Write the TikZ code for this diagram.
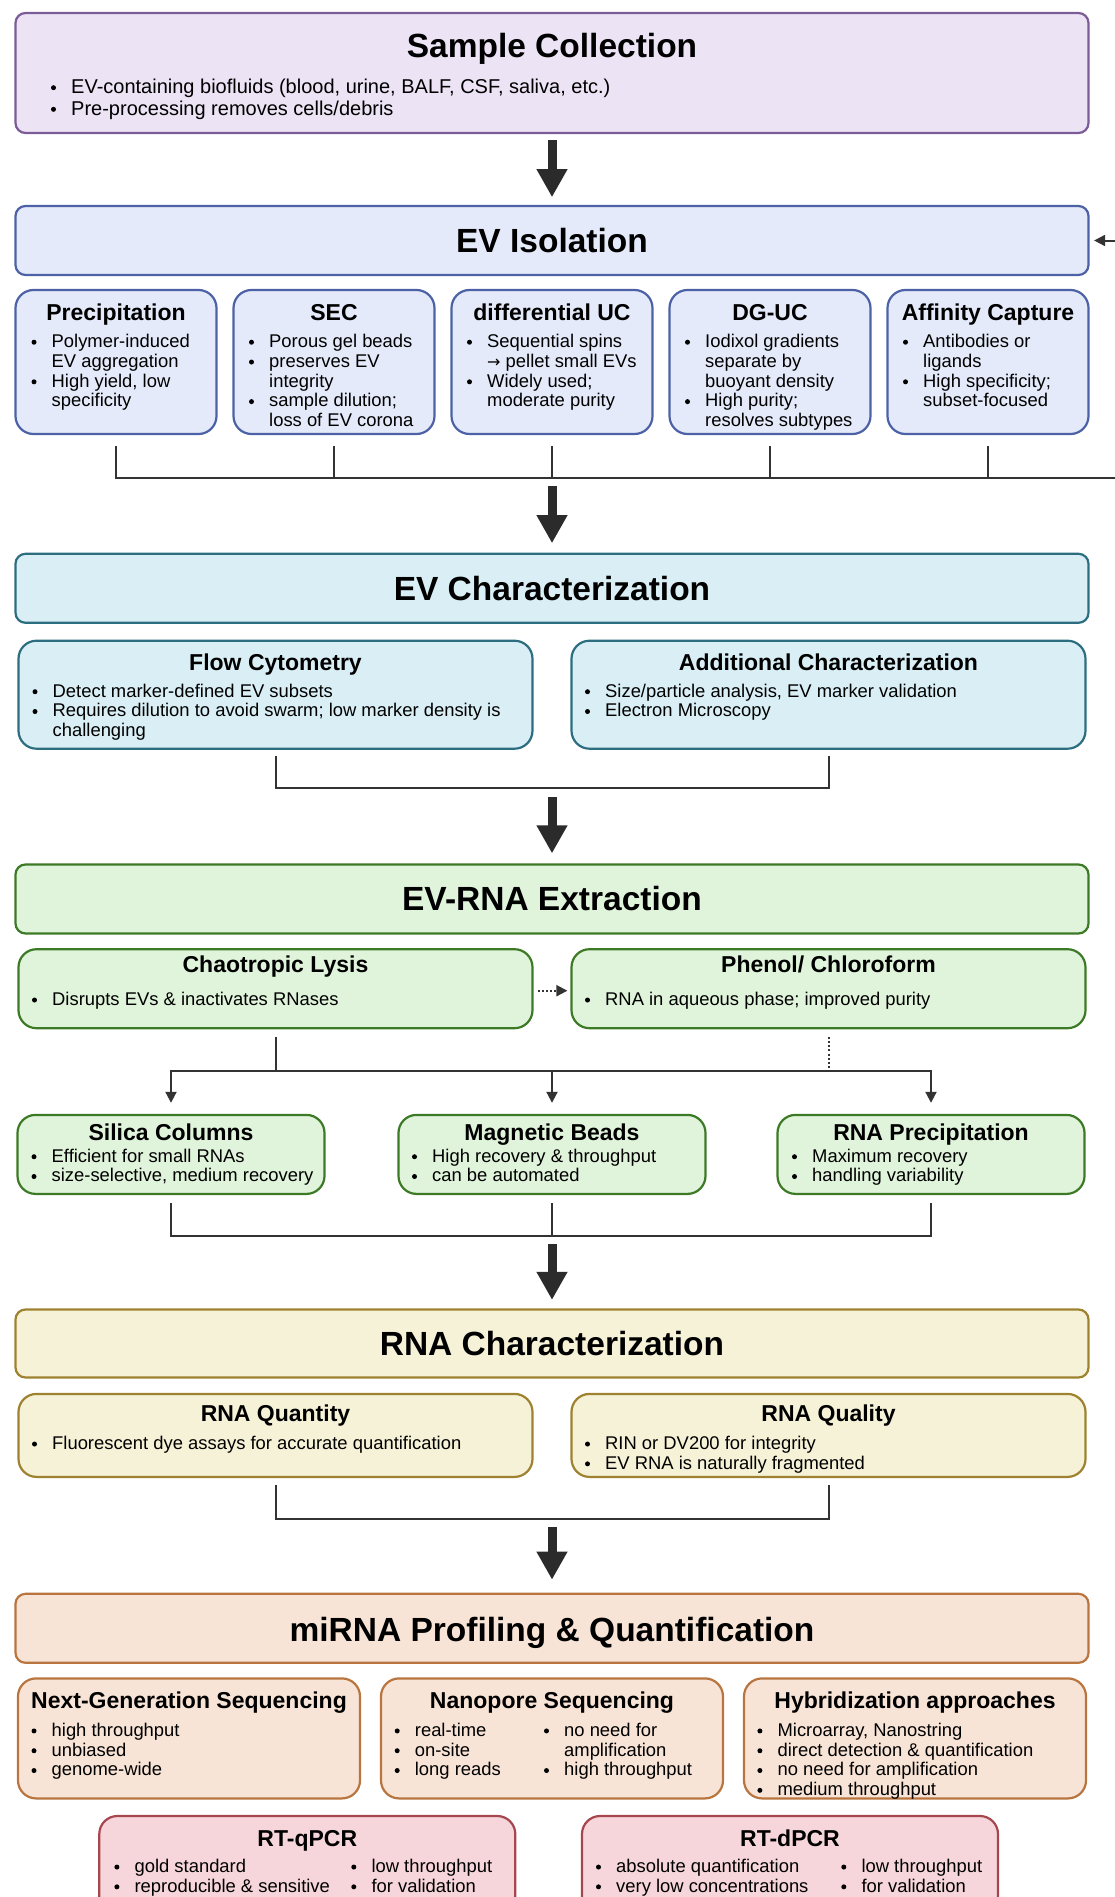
\documentclass[tikz,border=0pt]{standalone}
\usepackage{fontspec}
\setmainfont{Liberation Sans}
\newfontfamily\arrowfont{DejaVu Sans}
\usetikzlibrary{arrows.meta,calc}
\definecolor{scF}{HTML}{ECE3F4}\definecolor{scD}{HTML}{7B5C97}
\definecolor{isF}{HTML}{E4EAF9}\definecolor{isD}{HTML}{4D62A6}
\definecolor{chF}{HTML}{D9EFF5}\definecolor{chD}{HTML}{2C6E80}
\definecolor{exF}{HTML}{E0F3DB}\definecolor{exD}{HTML}{3D7A26}
\definecolor{rcF}{HTML}{F6F2D7}\definecolor{rcD}{HTML}{9E8230}
\definecolor{mrF}{HTML}{F8E4D6}\definecolor{mrD}{HTML}{B9753F}
\definecolor{rtF}{HTML}{F6D6DA}\definecolor{rtD}{HTML}{A6464F}
\definecolor{lineC}{HTML}{333333}\definecolor{arrC}{HTML}{2B2B2B}
\newcommand{\bul}{\llap{\tikz[baseline=-0.29em]\fill (0,0) circle (2.5pt);\hspace{15.2pt}}}
\tikzset{
  mainbox/.style={draw, line width=2.2pt, rounded corners=10pt, minimum width=1073pt, minimum height=69pt, inner sep=0pt},
  subbox/.style={draw, line width=2.2pt, rounded corners=18pt, inner sep=0pt},
  bigtitle/.style={anchor=base, inner sep=0pt, font=\fontsize{33.5}{40}\selectfont\bfseries},
  subtitle/.style={anchor=base, inner sep=0pt, font=\fontsize{23}{27}\selectfont\bfseries},
  body/.style={anchor=north west, align=left, inner sep=0pt, font=\fontsize{18.4}{19.8}\selectfont},
  conn/.style={draw=lineC, line width=2pt},
  dotconn/.style={conn, dash pattern=on 2pt off 2.2pt},
  smallarrow/.style={conn, -{Triangle[length=11pt,width=11pt]}},
  dotarrow/.style={dotconn, -{Triangle[length=11pt,width=11pt]}},
  bigarrow/.style={draw=arrC, line width=9pt, -{Triangle[length=28pt,width=29pt]}},
  isosub/.style={subbox, fill=isF, draw=isD, minimum width=201pt, minimum height=144pt},
  chsub/.style={subbox, fill=chF, draw=chD, minimum width=514pt, minimum height=108pt},
  exsub/.style={subbox, fill=exF, draw=exD, minimum width=514pt, minimum height=79pt},
  exsub3/.style={subbox, fill=exF, draw=exD, minimum width=307pt, minimum height=79pt},
  rcsub/.style={subbox, fill=rcF, draw=rcD, minimum width=514pt, minimum height=83pt},
  mrsub/.style={subbox, fill=mrF, draw=mrD, minimum width=342pt, minimum height=120pt},
  rtsub/.style={subbox, fill=rtF, draw=rtD, minimum width=416pt, minimum height=113pt},
}
\begin{document}
\begin{tikzpicture}[x=1pt,y=-1pt]
\useasboundingbox (0,0) rectangle (1115,1897);
\clip (0,0) rectangle (1115,1897);

% ---------- Sample Collection
\node[mainbox, fill=scF, draw=scD, minimum height=120pt] (sample) at (552,73) {};
\node[bigtitle] (sampleT) at (552,58) {Sample Collection};
\node[body, font=\fontsize{20}{20.5}\selectfont] (sampleB) at (71,78.8)
  {\strut\bul EV-containing biofluids (blood, urine, BALF, CSF, saliva, etc.)\\
   \bul Pre-processing removes cells/debris};

% ---------- EV Isolation
\node[mainbox, fill=isF, draw=isD] (iso) at (552,240.5) {};
\node[bigtitle] (isoT) at (552,252) {EV Isolation};
\node[isosub] (iso1) at (116,362) {};
\node[isosub] (iso2) at (334,362) {};
\node[isosub] (iso3) at (552,362) {};
\node[isosub] (iso4) at (770,362) {};
\node[isosub] (iso5) at (988,362) {};
\node[subtitle] (iso1T) at (116,320) {Precipitation};
\node[subtitle] (iso2T) at (334,320) {SEC};
\node[subtitle] (iso3T) at (552,320) {differential UC};
\node[subtitle] (iso4T) at (770,320) {DG-UC};
\node[subtitle] (iso5T) at (988,320) {Affinity Capture};
\node[body] (iso1B) at (51.5,333.5) {\strut\bul Polymer-induced\\EV aggregation\\\bul High yield, low\\specificity};
\node[body] (iso2B) at (269,333.5) {\strut\bul Porous gel beads\\\bul preserves EV\\integrity\\\bul sample dilution;\\loss of EV corona};
\node[body] (iso3B) at (487,333.5) {\strut\bul Sequential spins\\{\arrowfont\fontsize{16}{19.8}\selectfont →} pellet small EVs\\\bul Widely used;\\moderate purity};
\node[body] (iso4B) at (705,333.5) {\strut\bul Iodixol gradients\\separate by\\buoyant density\\\bul High purity;\\resolves subtypes};
\node[body] (iso5B) at (923,333.5) {\strut\bul Antibodies or\\ligands\\\bul High specificity;\\subset-focused};

% ---------- EV Characterization
\node[mainbox, fill=chF, draw=chD] (char) at (552,588.3) {};
\node[bigtitle] (charT) at (552,600) {EV Characterization};
\node[chsub] (flow) at (275.5,694.7) {};
\node[chsub] (add) at (828.5,694.7) {};
\node[subtitle] (flowT) at (275.5,670) {Flow Cytometry};
\node[subtitle] (addT) at (828.5,670) {Additional Characterization};
\node[body] (flowB) at (52.5,683) {\strut\bul Detect marker-defined EV subsets\\\bul Requires dilution to avoid swarm; low marker density is\\challenging};
\node[body] (addB) at (605,683) {\strut\bul Size/particle analysis, EV marker validation\\\bul Electron Microscopy};

% ---------- EV-RNA Extraction
\node[mainbox, fill=exF, draw=exD] (ext) at (552,899) {};
\node[bigtitle] (extT) at (552,910.7) {EV-RNA Extraction};
\node[exsub] (chao) at (275.5,988.7) {};
\node[exsub] (phen) at (828.5,988.7) {};
\node[subtitle] (chaoT) at (275.5,972.7) {Chaotropic Lysis};
\node[subtitle] (phenT) at (828.5,972.7) {Phenol/ Chloroform};
\node[body] (chaoB) at (52,991.3) {\strut\bul Disrupts EVs \& inactivates RNases};
\node[body] (phenB) at (605,991.3) {\strut\bul RNA in aqueous phase; improved purity};
\node[exsub3] (sil) at (171,1154.4) {};
\node[exsub3] (mag) at (552,1154.4) {};
\node[exsub3] (rpr) at (931,1154.4) {};
\node[subtitle] (silT) at (171,1140) {Silica Columns};
\node[subtitle] (magT) at (552,1140) {Magnetic Beads};
\node[subtitle] (rprT) at (931,1140) {RNA Precipitation};
\node[body] (silB) at (51.5,1148) {\strut\bul Efficient for small RNAs\\\bul size-selective, medium recovery};
\node[body] (magB) at (432,1148) {\strut\bul High recovery \& throughput\\\bul can be automated};
\node[body] (rprB) at (812,1148) {\strut\bul Maximum recovery\\\bul handling variability};

% ---------- RNA Characterization
\node[mainbox, fill=rcF, draw=rcD, minimum height=68pt] (rchar) at (552,1343.5) {};
\node[bigtitle] (rcharT) at (552,1355) {RNA Characterization};
\node[rcsub] (quant) at (275.5,1435.4) {};
\node[rcsub] (qual) at (828.5,1435.4) {};
\node[subtitle] (quantT) at (275.5,1421.7) {RNA Quantity};
\node[subtitle] (qualT) at (828.5,1421.7) {RNA Quality};
\node[body] (quantB) at (52,1435.3) {\strut\bul Fluorescent dye assays for accurate quantification};
\node[body] (qualB) at (605,1435.3) {\strut\bul RIN or DV200 for integrity\\\bul EV RNA is naturally fragmented};

% ---------- miRNA Profiling
\node[mainbox, fill=mrF, draw=mrD] (mirna) at (552,1628.3) {};
\node[bigtitle] (mirnaT) at (552,1641) {miRNA Profiling \& Quantification};
\node[mrsub] (ngs) at (189,1738.4) {};
\node[mrsub] (nano) at (552,1738.4) {};
\node[mrsub] (hyb) at (915,1738.4) {};
\node[subtitle] (ngsT) at (189,1708.3) {Next-Generation Sequencing};
\node[subtitle] (nanoT) at (552,1708.3) {Nanopore Sequencing};
\node[subtitle] (hybT) at (915,1708.3) {Hybridization approaches};
\node[body] (ngsB) at (51.5,1722.2) {\strut\bul high throughput\\\bul unbiased\\\bul genome-wide};
\node[body] (nanoB1) at (414.7,1722.2) {\strut\bul real-time\\\bul on-site\\\bul long reads};
\node[body] (nanoB2) at (564,1722.2) {\strut\bul no need for\\amplification\\\bul high throughput};
\node[body] (hybB) at (777.4,1722.2) {\strut\bul Microarray, Nanostring\\\bul direct detection \& quantification\\\bul no need for amplification\\\bul medium throughput};
\node[rtsub] (rtq) at (307.3,1872.5) {};
\node[rtsub] (rtd) at (790,1872.5) {};
\node[subtitle] (rtqT) at (307.3,1846) {RT-qPCR};
\node[subtitle] (rtdT) at (790,1846) {RT-dPCR};
\node[body] (rtqB1) at (134.4,1858.3) {\strut\bul gold standard\\\bul reproducible \& sensitive};
\node[body] (rtqB2) at (371.3,1858.3) {\strut\bul low throughput\\\bul for validation};
\node[body] (rtdB1) at (616,1858.3) {\strut\bul absolute quantification\\\bul very low concentrations};
\node[body] (rtdB2) at (861.3,1858.3) {\strut\bul low throughput\\\bul for validation};

% ---------- connectors
\draw[bigarrow] ($(sample.south)+(0,6)$) -- ($(iso.north)+(0,-7.7)$);

\coordinate (loopR) at (1115,240.5);
\draw[smallarrow] (loopR) -- ($(iso.east)+(4.5,0)$);

\coordinate (isobar) at (1115,477.7);
\draw[conn] ($(iso1.south)+(0,11)$) |- (isobar);
\foreach \k in {2,3,4,5} \draw[conn] ($(iso\k.south)+(0,11)$) -- (iso\k.south |- isobar);
\draw[bigarrow] ($(iso3.south |- isobar)+(0,8.5)$) -- ($(char.north)+(0,-9.5)$);

\draw[conn] ($(flow.south)+(0,6)$) -- ($(flow.south)+(0,38.3)$) -- ($(add.south)+(0,38.3)$) -- ($(add.south)+(0,6)$);
\draw[bigarrow] ($(flow.south)!0.5!(add.south)+(0,47)$) -- ($(ext.north)+(0,-10)$);

\draw[dotarrow] ($(chao.east)+(4,2)$) -- ($(phen.west)+(-3,2)$);
\coordinate (xbar) at ($(chao.south)+(0,41.8)$);
\draw[conn] ($(chao.south)+(0,7.5)$) -- (xbar);
\draw[dotconn] ($(phen.south)+(0,7.5)$) -- (phen.south |- xbar);
\draw[smallarrow] (mag.north |- xbar) -| ($(sil.north)+(0,-11)$);
\draw[smallarrow] (mag.north |- xbar) -| ($(rpr.north)+(0,-11)$);
\draw[smallarrow] (mag.north |- xbar) -- ($(mag.north)+(0,-11)$);

\draw[conn] ($(sil.south)+(0,8)$) |- ($(rpr.south)+(0,40.8)$) -- ($(rpr.south)+(0,8)$);
\draw[conn] ($(mag.south)+(0,8)$) -- ($(mag.south)+(0,40.8)$);
\draw[bigarrow] ($(mag.south)+(0,49)$) -- ($(rchar.north)+(0,-8.5)$);

\draw[conn] ($(quant.south)+(0,7)$) -- ($(quant.south)+(0,40.8)$) -- ($(qual.south)+(0,40.8)$) -- ($(qual.south)+(0,7)$);
\draw[bigarrow] ($(quant.south)!0.5!(qual.south)+(0,49)$) -- ($(mirna.north)+(0,-13)$);
\end{tikzpicture}
\end{document}
